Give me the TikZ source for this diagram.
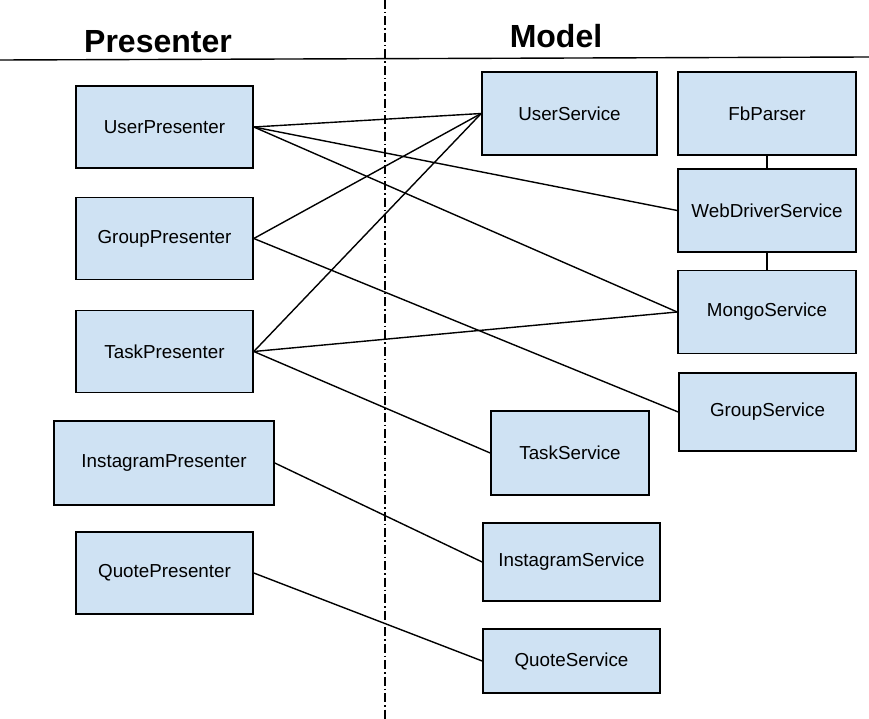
\documentclass[tikz,border=0pt]{standalone}
\usepackage{fontspec}
\setmainfont{Liberation Sans}
\usepackage{xcolor}
\definecolor{boxblue}{HTML}{CFE2F3}

\begin{document}
\begin{tikzpicture}[x=1pt, y=-1pt,
        box/.style={draw, line width=1.6pt, fill=boxblue, inner sep=0pt, font=\fontsize{18.8}{20}\selectfont},
        link/.style={line width=1.4pt},
        title/.style={font=\fontsize{32}{35}\selectfont\bfseries}]

        % fix the page size
        \useasboundingbox (0,0) rectangle (869,719);

        % Titles and separators
        \node[title] (pres) at (158,42) {Presenter};
        \node[title] (mod) at (556,36) {Model};
        \draw[line width=1.4pt] (0,60) -- (869,57);
        \draw[line width=1.2pt, dash pattern=on 9pt off 3pt on 1.5pt off 3pt] (385,0) -- (385,719);

        % Presenters (left)
        \foreach \y/\name/\label in {127/userP/UserPresenter, 238.5/groupP/GroupPresenter, 351.5/taskP/TaskPresenter, 573/quoteP/QuotePresenter} {
            \node[box, minimum width=177pt, minimum height=82pt] (\name) at (164.5,\y) {\label};
        }
        \node[box, minimum width=220pt, minimum height=84pt] (instaP) at (164,463) {InstagramPresenter};

        % Services (right)
        \node[box, minimum width=175pt, minimum height=83pt] (userS) at (569.5,113.5) {UserService};
        \foreach \y/\name/\label in {113.5/fbS/FbParser, 210.5/webS/WebDriverService, 312/mongoS/MongoService} {
            \node[box, minimum width=178pt, minimum height=83pt] (\name) at (767,\y) {\label};
        }
        \node[box, minimum width=177pt, minimum height=78pt] (groupS) at (767.5,412) {GroupService};
        \node[box, minimum width=158pt, minimum height=84pt] (taskS) at (570,453) {TaskService};
        \node[box, minimum width=177pt, minimum height=78pt] (instaS) at (571.5,562) {InstagramService};
        \node[box, minimum width=177pt, minimum height=64pt] (quoteS) at (571.5,661) {QuoteService};

        % Stack on the right
        \draw[link] (fbS) -- (webS);
        \draw[link] (webS) -- (mongoS);

        % Presenter -> Service links
        \foreach \a/\b in {userP/userS, userP/webS, userP/mongoS, groupP/userS, groupP/groupS, taskP/userS, taskP/mongoS, taskP/taskS, instaP/instaS, quoteP/quoteS} {
            \draw[link] (\a.east) -- (\b.west);
        }
    \end{tikzpicture}
\end{document}
